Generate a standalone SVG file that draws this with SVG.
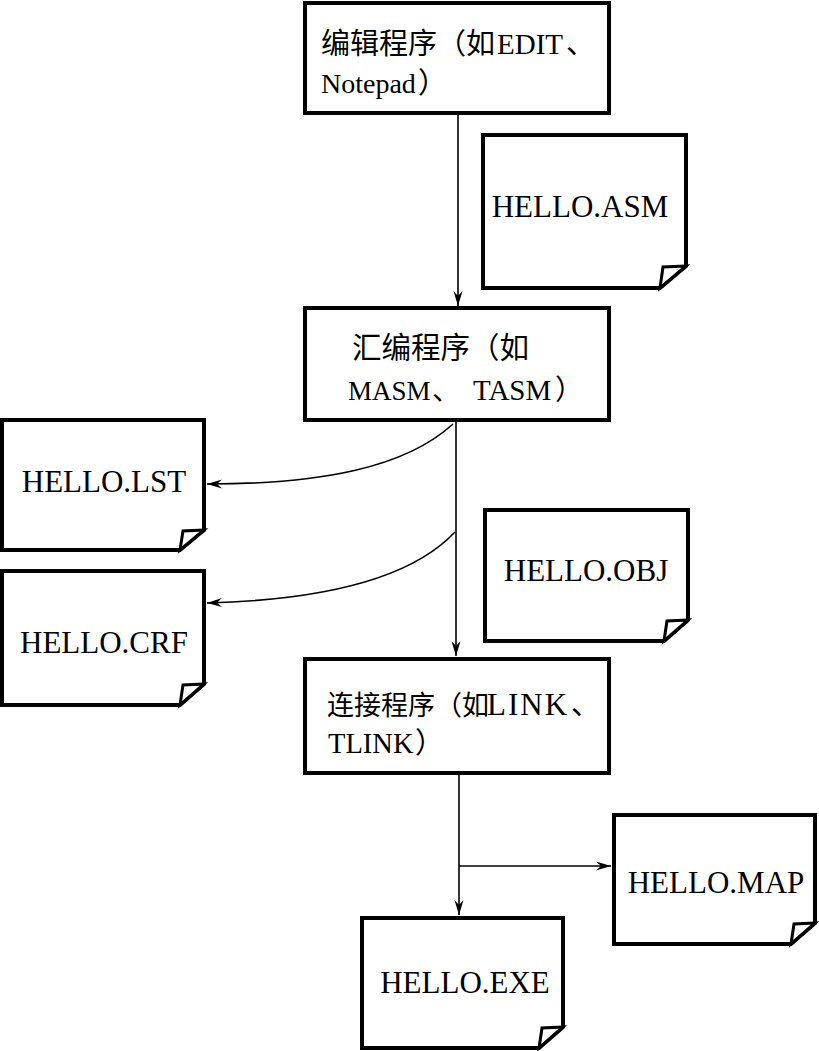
<svg xmlns="http://www.w3.org/2000/svg" width="819" height="1051" viewBox="0 0 819 1051">
<style>
.box{fill:#fff;stroke:#000;stroke-width:4}
.doc{fill:#fff;stroke:#000;stroke-width:4;stroke-linejoin:miter}
.flap{fill:#fff;stroke:#000;stroke-width:3;stroke-linejoin:miter}
.t{font-family:"Noto Sans CJK SC","Liberation Serif",sans-serif;font-size:29px;fill:#000}
.l{font-family:"Liberation Serif","Noto Sans CJK SC",serif;font-size:28px}
.d{font-family:"Liberation Serif",serif;font-size:31px;fill:#000;text-anchor:middle}
.c{fill:none;stroke:#000;stroke-width:1.6}
</style>
<defs>
<marker id="ah" markerUnits="userSpaceOnUse" markerWidth="20" markerHeight="12" viewBox="-16 -6 17 12" refX="0" refY="0" orient="auto">
<path d="M0,0 L-15,-4.5 L-10,0 L-15,4.5 Z" fill="#000"/>
</marker>
</defs>
<rect width="819" height="1051" fill="#fff"/>
<g id="connectors">
<path class="c" d="M458,113 V306" marker-end="url(#ah)"/>
<path class="c" d="M456,420 V656" marker-end="url(#ah)"/>
<path class="c" d="M453,424 C405,468 320,484 207,484" marker-end="url(#ah)"/>
<path class="c" d="M455,532 C410,580 320,600 207,603" marker-end="url(#ah)"/>
<path class="c" d="M459,773 V915" marker-end="url(#ah)"/>
<path class="c" d="M459,866 H611" marker-end="url(#ah)"/>
</g>
<g id="edit">
<rect class="box" x="305" y="3" width="304" height="110"/>
<text class="t" x="321" y="54">编辑程序（如<tspan class="l" x="497" style="font-size:29px">EDIT</tspan><tspan x="566">、</tspan></text>
<text class="t" x="321" y="93"><tspan class="l">Notepad</tspan><tspan x="418">）</tspan></text>
</g>
<g id="asm">
<path class="doc" d="M483,135 H686 V266 L660,288 H483 Z"/>
<path class="flap" d="M686,266 L663,267 L660,288 Z"/>
<text class="d" x="580" y="217">HELLO.ASM</text>
</g>
<g id="masm">
<rect class="box" x="305" y="308" width="304" height="112"/>
<text class="t" x="352" y="358" style="font-size:29.5px">汇编程序（如</text>
<text class="t" x="348" y="400" style="font-size:28px"><tspan class="l" style="font-size:27px">MASM</tspan><tspan x="432">、</tspan><tspan class="l" x="473" style="font-size:29px">TASM</tspan><tspan x="555">）</tspan></text>
</g>
<g id="lst">
<path class="doc" d="M2,420 H204 V530 L180,550 H2 Z"/>
<path class="flap" d="M204,530 L183,531 L180,550 Z"/>
<text class="d" x="104" y="492">HELLO.LST</text>
</g>
<g id="crf">
<path class="doc" d="M2,571 H204 V684 L180,705 H2 Z"/>
<path class="flap" d="M204,684 L183,685 L180,705 Z"/>
<text class="d" x="104" y="653">HELLO.CRF</text>
</g>
<g id="obj">
<path class="doc" d="M485,510 H688 V620 L664,641 H485 Z"/>
<path class="flap" d="M688,620 L667,621 L664,641 Z"/>
<text class="d" x="586" y="581">HELLO.OBJ</text>
</g>
<g id="link">
<rect class="box" x="305" y="659" width="304" height="114"/>
<text class="t" x="327" y="715" style="font-size:27px">连接程序（如<tspan class="l" x="487" style="font-size:31px;letter-spacing:2px">LINK</tspan><tspan x="571" style="font-size:29px">、</tspan></text>
<text class="t" x="328" y="753"><tspan class="l" style="font-size:28.5px">TLINK</tspan><tspan x="415">）</tspan></text>
</g>
<g id="map">
<path class="doc" d="M614,815 H815 V923 L791,944 H614 Z"/>
<path class="flap" d="M815,923 L794,924 L791,944 Z"/>
<text class="d" x="716" y="893">HELLO.MAP</text>
</g>
<g id="exe">
<path class="doc" d="M362,918 H563 V1027 L539,1048 H362 Z"/>
<path class="flap" d="M563,1027 L542,1028 L539,1048 Z"/>
<text class="d" x="465" y="993">HELLO.EXE</text>
</g>
</svg>
